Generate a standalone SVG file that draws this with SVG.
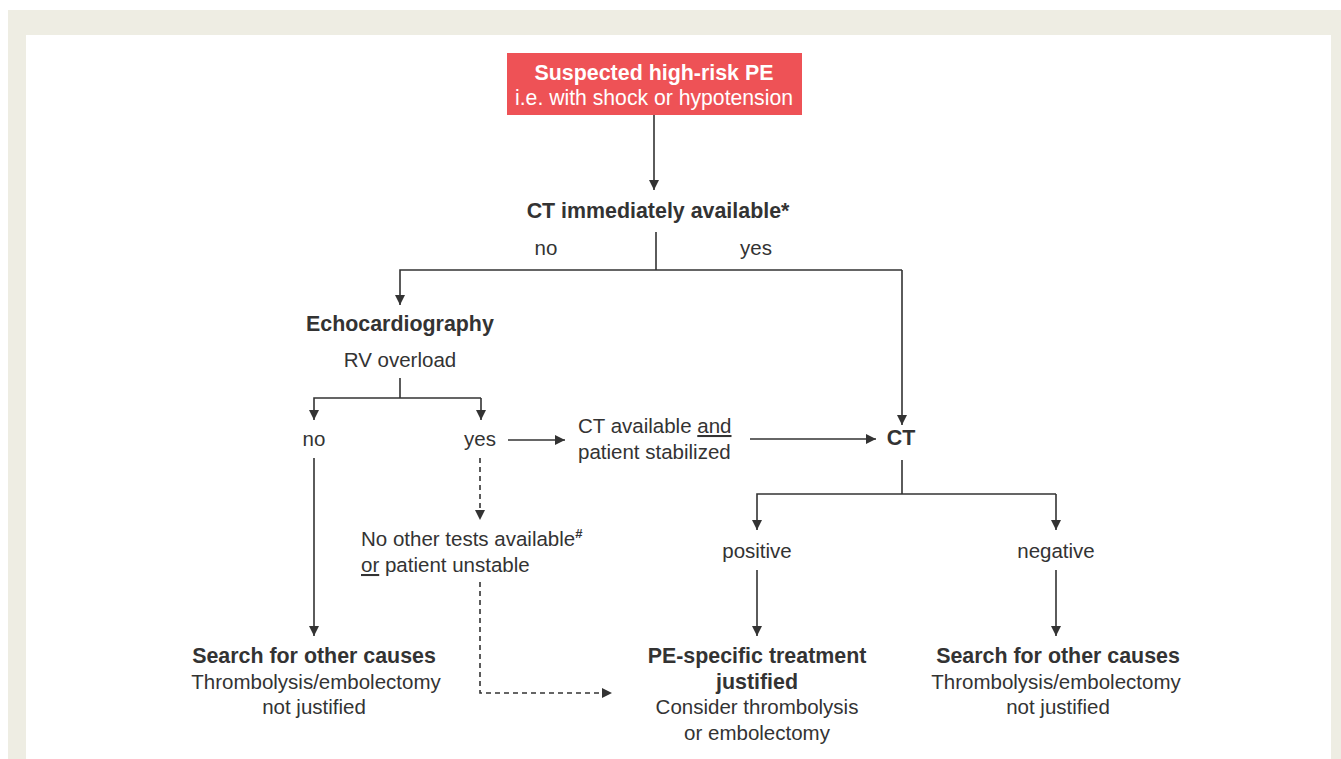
<svg xmlns="http://www.w3.org/2000/svg" width="1341" height="759" viewBox="0 0 1341 759">
<defs>
<marker id="ah" viewBox="0 0 10 10" refX="10" refY="5" markerWidth="10" markerHeight="10" markerUnits="userSpaceOnUse" orient="auto">
<path d="M0,0 L10,5 L0,10 z" fill="#333"/>
</marker>
<style>
text{font-family:"Liberation Sans",Arial,sans-serif;font-size:20.5px;fill:#333;text-anchor:middle}
.b{font-weight:bold;font-size:21.4px}
.l{text-anchor:start}
.w{fill:#fff}
.r{font-size:21.2px}
.c{fill:none;stroke:#333;stroke-width:1.6}
.d{stroke-dasharray:5,4}
.ul{text-decoration:underline}
</style>
</defs>
<rect x="0" y="0" width="1341" height="759" fill="#fff"/>
<rect x="8" y="10" width="1333" height="749" fill="#EEEDE3"/>
<rect x="26" y="35" width="1305" height="724" fill="#fff"/>

<g id="connectors">
<path class="c" d="M654,115 V190" marker-end="url(#ah)"/>
<path class="c" d="M656,232 V270"/>
<path class="c" d="M902,270 H400 V305" marker-end="url(#ah)"/>
<path class="c" d="M902,270 V425" marker-end="url(#ah)"/>
<path class="c" d="M400,378 V398"/>
<path class="c" d="M481,398 H314 V420" marker-end="url(#ah)"/>
<path class="c" d="M481,398 V420" marker-end="url(#ah)"/>
<path class="c" d="M508,440 H565" marker-end="url(#ah)"/>
<path class="c" d="M750,439 H876" marker-end="url(#ah)"/>
<path class="c" d="M902,460 V494"/>
<path class="c" d="M1056,494 H757 V530" marker-end="url(#ah)"/>
<path class="c" d="M1056,494 V530" marker-end="url(#ah)"/>
<path class="c" d="M314,458 V636" marker-end="url(#ah)"/>
<path class="c" d="M757,570 V636" marker-end="url(#ah)"/>
<path class="c" d="M1056,570 V636" marker-end="url(#ah)"/>
<path class="c d" d="M480,458 V520" marker-end="url(#ah)"/>
<path class="c d" d="M480,582 V693 H612" marker-end="url(#ah)"/>
</g>

<g id="start">
<rect x="507" y="53" width="295" height="62" fill="#EE5256"/>
<text class="b w" x="654" y="80">Suspected high-risk PE</text>
<text class="w r" x="654" y="105">i.e. with shock or hypotension</text>
</g>

<g id="ct-immediate">
<text class="b" x="658" y="218">CT immediately available*</text>
<text x="546" y="255">no</text>
<text x="756" y="255">yes</text>
</g>

<g id="echo">
<text class="b l" x="306" y="331">Echocardiography</text>
<text x="400" y="367">RV overload</text>
</g>

<g id="echo-no"><text x="314" y="446">no</text></g>
<g id="echo-yes"><text x="480" y="446">yes</text></g>

<g id="ct-stabilized">
<text class="l" x="578" y="433">CT available <tspan class="ul">and</tspan></text>
<text class="l" x="578" y="459">patient stabilized</text>
</g>

<g id="ct"><text class="b" x="901" y="445">CT</text></g>

<g id="no-tests">
<text class="l" x="361" y="546">No other tests available<tspan font-size="13" font-weight="bold" dy="-8">#</tspan></text>
<text class="l" x="361" y="572"><tspan class="ul">or</tspan> patient unstable</text>
</g>

<g id="positive"><text x="757" y="558">positive</text></g>
<g id="negative"><text x="1056" y="558">negative</text></g>

<g id="other-left">
<text class="b" x="314" y="663">Search for other causes</text>
<text x="316" y="689">Thrombolysis/embolectomy</text>
<text x="314" y="714">not justified</text>
</g>

<g id="pe-treatment">
<text class="b" x="757" y="663">PE-specific treatment</text>
<text class="b" x="757" y="689">justified</text>
<text x="757" y="714">Consider thrombolysis</text>
<text x="757" y="740">or embolectomy</text>
</g>

<g id="other-right">
<text class="b" x="1058" y="663">Search for other causes</text>
<text x="1056" y="689">Thrombolysis/embolectomy</text>
<text x="1058" y="714">not justified</text>
</g>
</svg>
